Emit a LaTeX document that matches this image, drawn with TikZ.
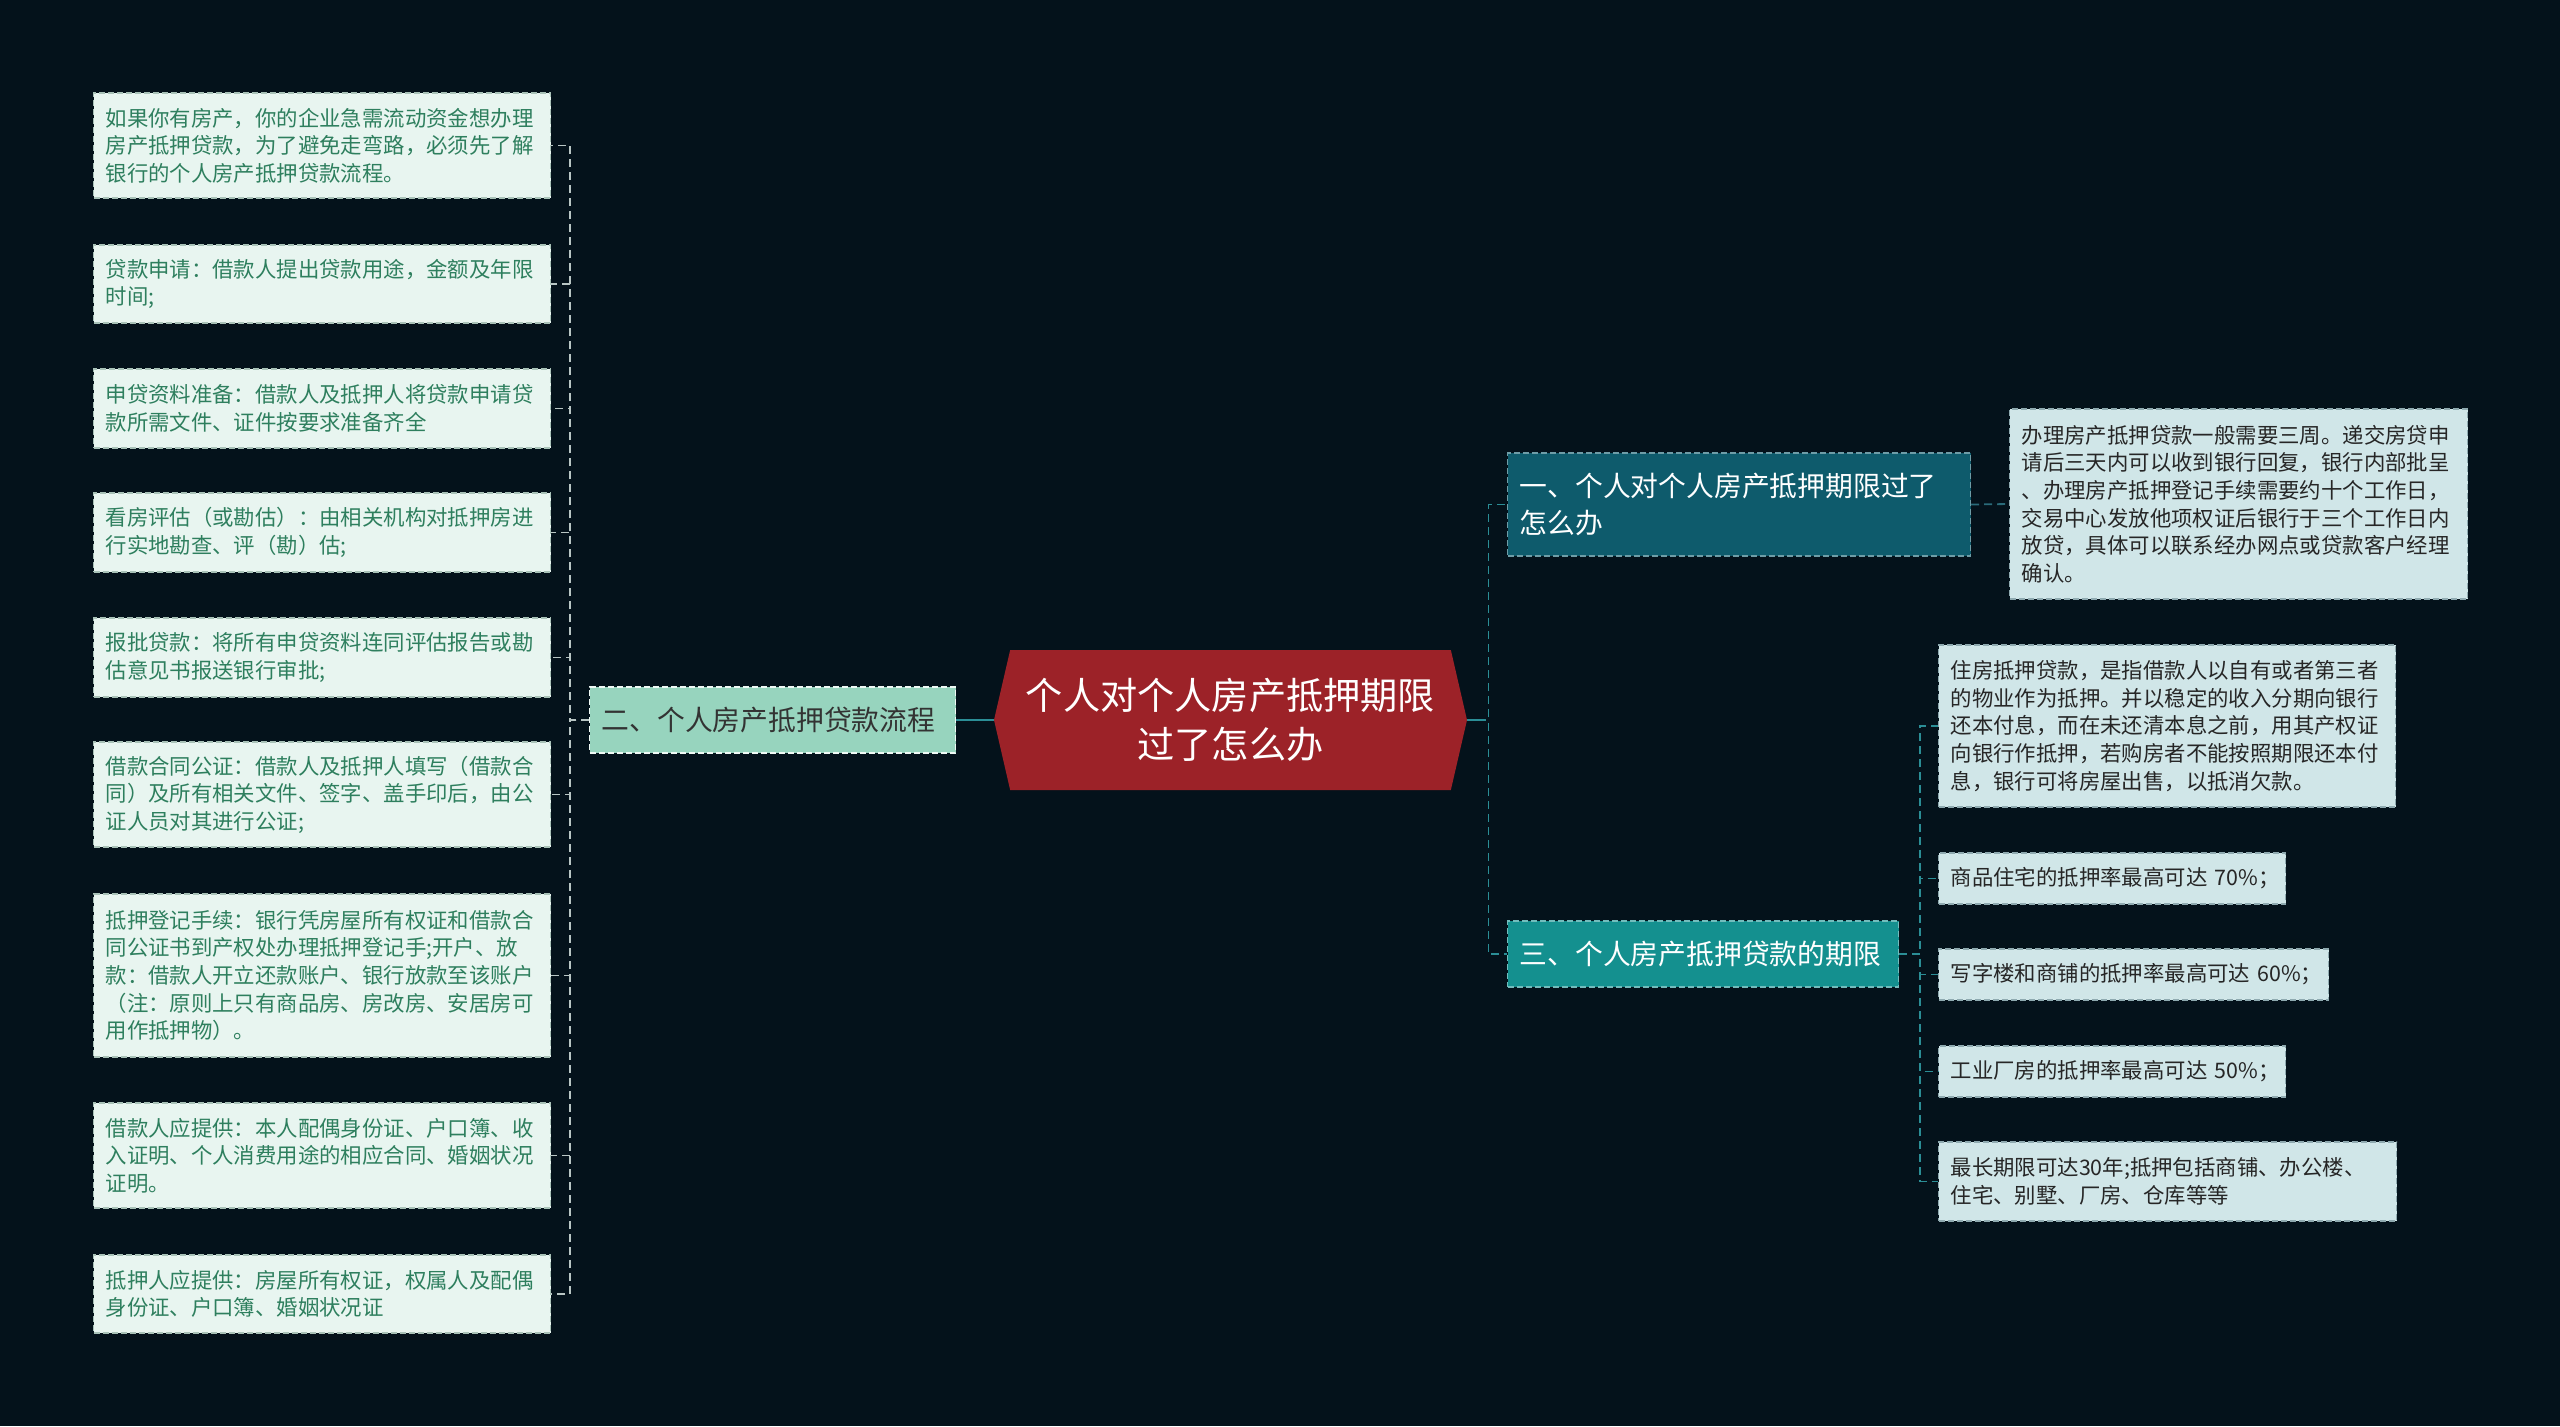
\documentclass[tikz,border=0pt]{standalone}
\usepackage{fontspec}
\setmainfont{Noto Sans CJK SC}
\usetikzlibrary{shapes.symbols}
\definecolor{bgnavy}{HTML}{04121B}
\definecolor{leafmint}{HTML}{E8F5F0}
\definecolor{leafline}{HTML}{A9C2B8}
\definecolor{leafgreen}{HTML}{2E7F5E}
\definecolor{leafgrey}{HTML}{D0E6E8}
\definecolor{leafgreyline}{HTML}{8FAAB0}
\definecolor{branchmint}{HTML}{97D4BE}
\definecolor{branchteal}{HTML}{0E5B6C}
\definecolor{branchcyan}{HTML}{14908F}
\definecolor{centerred}{HTML}{9C2228}
\definecolor{linkgrey}{HTML}{B9C6C4}
\definecolor{linkteal}{HTML}{2B8E96}
\definecolor{linkdark}{HTML}{2A6B7A}
\newcommand\leaffont{\fontsize{10.7pt}{13.8pt}\selectfont}
\newcommand\branchfont{\fontsize{13.9pt}{18.5pt}\selectfont}
\newcommand\centerfont{\fontsize{18.6pt}{24.5pt}\selectfont}

\tikzset{
 boxline/.style={dash pattern=on 3pt off 1.5pt,line width=.6pt},
 leftbox/.style={boxline,draw=leafline,fill=leafmint,text=leafgreen,font=\leaffont,
  align=left,text width=216.5pt,inner xsep=6pt,inner ysep=3pt,anchor=west},
 rightbox/.style={boxline,draw=leafgreyline,fill=leafgrey,text=black!85,font=\leaffont,
  align=left,text width=#1,inner xsep=6pt,inner ysep=3pt,anchor=west},
 branchbox/.style={boxline,font=\branchfont,align=left,text width=#1,
  inner xsep=6pt,inner ysep=3pt,anchor=west},
 centernode/.style={signal,signal to=west and east,signal pointer angle=154,
  fill=centerred,text=white,font=\centerfont,align=center,
  minimum width=236.5pt,minimum height=70pt,inner sep=2pt},
 greylink/.style={draw=linkgrey,line width=.8pt,dash pattern=on 4pt off 2.5pt},
 teallink/.style={draw=linkteal,line width=.9pt,dash pattern=on 4pt off 2.5pt},
 tealsolid/.style={draw=linkteal,line width=1.1pt},
}

\begin{document}
\begin{tikzpicture}[x=.5pt,y=-.5pt]
\fill[bgnavy] (0,0) rectangle (2560,1426);
\useasboundingbox (0,0) rectangle (2560,1426);

% centre and main branches
\node[centernode] (C) at (1230.5,720) {个人对个人房产抵押期限\\过了怎么办};
\node[branchbox=171pt,draw=white!85!branchmint,fill=branchmint,text=black!80,minimum height=33pt] (B2) at (589,720) {二、个人房产抵押贷款流程};
\node[branchbox=219.5pt,draw=branchteal!60!white,fill=branchteal,text=white,minimum height=51.5pt] (B1) at (1507,504.5) {一、个人对个人房产抵押期限过了\\怎么办};
\node[branchbox=183.5pt,draw=branchcyan!60!white,fill=branchcyan,text=white,minimum height=33pt] (B3) at (1507,954) {三、个人房产抵押贷款的期限};

\draw[tealsolid] (C.west) -- (B2.east);
\draw[tealsolid] (C.east) -- ++(11,0) coordinate (cR);
\draw[teallink] (cR) -- ++(10,0) |- (B1.west);
\draw[teallink] (cR) -- ++(10,0) |- (B3.west);

% left leaves
\foreach \y/\h/\txt [count=\i] in {
 145.5/52.5/{如果你有房产，你的企业急需流动资金想办理\\房产抵押贷款，为了避免走弯路，必须先了解\\银行的个人房产抵押贷款流程。},
 284/39/{贷款申请：借款人提出贷款用途，金额及年限\\时间;},
 408.5/39.5/{申贷资料准备：借款人及抵押人将贷款申请贷\\款所需文件、证件按要求准备齐全},
 532.5/39.5/{看房评估（或勘估）：由相关机构对抵押房进\\行实地勘查、评（勘）估;},
 657.5/39.5/{报批贷款：将所有申贷资料连同评估报告或勘\\估意见书报送银行审批;},
 794.5/52.5/{借款合同公证：借款人及抵押人填写（借款合\\同）及所有相关文件、签字、盖手印后，由公\\证人员对其进行公证;},
 975.5/81.5/{抵押登记手续：银行凭房屋所有权证和借款合\\同公证书到产权处办理抵押登记手;开户、放\\款：借款人开立还款账户、银行放款至该账户\\（注：原则上只有商品房、房改房、安居房可\\用作抵押物）。},
 1155.5/52.5/{借款人应提供：本人配偶身份证、户口簿、收\\入证明、个人消费用途的相应合同、婚姻状况\\证明。},
 1294/39/{抵押人应提供：房屋所有权证，权属人及配偶\\身份证、户口簿、婚姻状况证}} {
 \node[leftbox,minimum height=\h pt] (L\i) at (93,\y) {\txt};
 \draw[greylink] (B2.west) -- ++(-19,0) |- (L\i.east);
}

% branch one leaf
\node[rightbox=217pt,minimum height=95pt] (R1) at (2009,504) {办理房产抵押贷款一般需要三周。递交房贷申\\请后三天内可以收到银行回复，银行内部批呈\\、办理房产抵押登记手续需要约十个工作日，\\交易中心发放他项权证后银行于三个工作日内\\放贷，具体可以联系经办网点或贷款客户经理\\确认。};
\draw[teallink,draw=linkdark] (B1.east) -- (R1.west);

% branch three leaves
\foreach \y/\w/\h/\txt [count=\i] in {
 726/216.5pt/81/{住房抵押贷款，是指借款人以自有或者第三者\\的物业作为抵押。并以稳定的收入分期向银行\\还本付息，而在未还清本息之前，用其产权证\\向银行作抵押，若购房者不能按照期限还本付\\息，银行可将房屋出售，以抵消欠款。},
 878.5/161.5pt/25.5/{\mbox{商品住宅的抵押率最高可达 70\%；}},
 974.5/183pt/25.5/{\mbox{写字楼和商铺的抵押率最高可达 60\%；}},
 1071.5/161.5pt/25.5/{\mbox{工业厂房的抵押率最高可达 50\%；}},
 1181.5/217pt/39.5/{最长期限可达30年;抵押包括商铺、办公楼、\\住宅、别墅、厂房、仓库等等}} {
 \node[rightbox=\w,minimum height=\h pt] (T\i) at (1938,\y) {\txt};
 \draw[teallink] (B3.east) -- ++(21,0) |- (T\i.west);
}
\end{tikzpicture}
\end{document}
